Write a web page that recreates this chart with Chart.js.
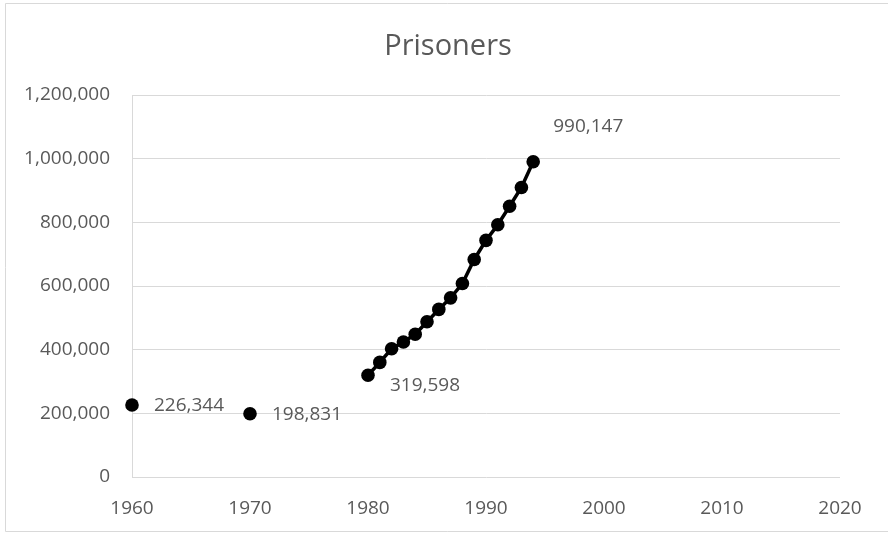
<!DOCTYPE html>
<html>
<head>
<meta charset="utf-8">
<script src="https://cdn.jsdelivr.net/npm/chart.js@4"></script>
<style>
  html, body { margin: 0; padding: 0; background: #ffffff; overflow: hidden; }
  #wrap { width: 888px; height: 534px; }
</style>
</head>
<body>
<div id="wrap"><canvas id="chart" width="888" height="534"></canvas></div>
<script>
// U.S. state and federal prisoners
const earlyYears = [1960, 1970];
const earlyPrisoners = [226344, 198831];

const seriesYears = [1980, 1981, 1982, 1983, 1984, 1985, 1986, 1987, 1988, 1989, 1990, 1991, 1992, 1993, 1994];
const seriesPrisoners = [319598, 360029, 402914, 423898, 448264, 487593, 526436, 562814, 607766, 683367, 743382, 792535, 850566, 909381, 990147];

const xTicks = [1960, 1970, 1980, 1990, 2000, 2010, 2020];
const yTicks = [0, 200000, 400000, 600000, 800000, 1000000, 1200000];

const chartTitle = 'Prisoners';

const TEXT = '#595959';
const GRID = '#d9d9d9';
const FONT = '"Open Sans", "Liberation Sans", sans-serif';

const fmt = v => Number(v).toLocaleString('en-US');

// value labels: which point of which dataset, and where the text sits relative to it
const valueLabels = [
  { dataset: 0, index: 0, dx: 22, dy: 1 },
  { dataset: 0, index: 1, dx: 22, dy: 1 },
  { dataset: 1, index: 0, dx: 22, dy: 10 },
  { dataset: 1, index: seriesYears.length - 1, dx: 20, dy: -35 }
];

const frameAndTitle = {
  id: 'frameAndTitle',
  beforeDraw(chart) {
    const ctx = chart.ctx;
    ctx.save();
    ctx.fillStyle = '#ffffff';
    ctx.fillRect(0, 0, chart.width, chart.height);
    // chart frame: left, top and bottom edges inside the canvas
    ctx.strokeStyle = GRID;
    ctx.lineWidth = 1;
    ctx.beginPath();
    ctx.moveTo(chart.width + 10, 3.5);
    ctx.lineTo(5.5, 3.5);
    ctx.lineTo(5.5, 531.5);
    ctx.lineTo(chart.width + 10, 531.5);
    ctx.stroke();
    ctx.restore();
  },
  afterDraw(chart) {
    const ctx = chart.ctx;
    ctx.save();
    ctx.fillStyle = TEXT;
    ctx.font = '29px ' + FONT;
    ctx.textAlign = 'center';
    ctx.textBaseline = 'alphabetic';
    ctx.fillText(chartTitle, 448, 55);
    ctx.restore();
  }
};

const pointValueLabels = {
  id: 'pointValueLabels',
  afterDatasetsDraw(chart) {
    const ctx = chart.ctx;
    ctx.save();
    ctx.fillStyle = TEXT;
    ctx.font = '19px ' + FONT;
    ctx.textAlign = 'left';
    ctx.textBaseline = 'middle';
    valueLabels.forEach(l => {
      const meta = chart.getDatasetMeta(l.dataset);
      const el = meta.data[l.index];
      const raw = chart.data.datasets[l.dataset].data[l.index];
      ctx.fillText(fmt(raw.y), el.x + l.dx, el.y + l.dy);
    });
    ctx.restore();
  }
};

const toPoints = (xs, ys) => xs.map((x, i) => ({ x: x, y: ys[i] }));

new Chart(document.getElementById('chart'), {
  type: 'scatter',
  data: {
    datasets: [
      {
        label: 'Prisoners',
        data: toPoints(earlyYears, earlyPrisoners),
        showLine: false,
        pointRadius: 6.8,
        pointHoverRadius: 6.8,
        pointBackgroundColor: '#000000',
        pointBorderWidth: 0,
        clip: false
      },
      {
        label: 'Prisoners',
        data: toPoints(seriesYears, seriesPrisoners),
        showLine: true,
        borderColor: '#000000',
        borderWidth: 3.5,
        pointRadius: 6.8,
        pointHoverRadius: 6.8,
        pointBackgroundColor: '#000000',
        pointBorderWidth: 0,
        tension: 0,
        clip: false
      }
    ]
  },
  options: {
    responsive: false,
    animation: false,
    devicePixelRatio: 1,
    layout: { padding: { top: 95, right: 48, bottom: 0, left: 0 } },
    plugins: {
      legend: { display: false },
      title: { display: false },
      tooltip: { enabled: false }
    },
    scales: {
      x: {
        type: 'linear',
        min: xTicks[0],
        max: xTicks[xTicks.length - 1],
        afterBuildTicks(scale) { scale.ticks = xTicks.map(v => ({ value: v })); },
        afterFit(scale) { scale.height = 57; },
        grid: { display: false, drawTicks: false },
        border: { display: false },
        ticks: {
          color: TEXT,
          font: { family: FONT, size: 19 },
          padding: 20,
          maxRotation: 0,
          autoSkip: false,
          callback: v => String(v)
        }
      },
      y: {
        min: yTicks[0],
        max: yTicks[yTicks.length - 1],
        afterBuildTicks(scale) { scale.ticks = yTicks.map(v => ({ value: v })); },
        afterFit(scale) { scale.width = 132; },
        grid: { color: GRID, lineWidth: 1, drawTicks: false },
        border: { display: true, color: GRID, width: 1 },
        ticks: {
          color: TEXT,
          font: { family: FONT, size: 19 },
          padding: 22,
          callback: v => fmt(v)
        }
      }
    }
  },
  plugins: [frameAndTitle, pointValueLabels]
});
</script>
</body>
</html>
